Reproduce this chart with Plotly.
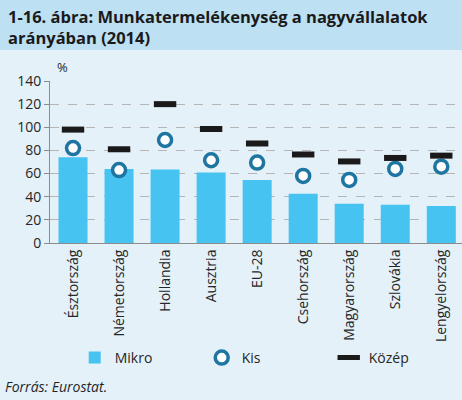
import plotly.graph_objects as go

# Data
countries = ["Észtország", "Németország", "Hollandia", "Ausztria", "EU-28",
             "Csehország", "Magyarország", "Szlovákia", "Lengyelország"]
mikro = [74, 64, 63.5, 61, 54.5, 42.5, 34, 33, 32]
kis = [82, 63, 89, 71.5, 69.5, 58, 54.5, 64, 66]
kozep = [98, 81, 120, 98.5, 86, 76.5, 70.5, 73.5, 75.5]
y_ticks = [0, 20, 40, 60, 80, 100, 120, 140]

font = "Open Sans"
bg = "#e4f1f9"
header = "#bde0f3"

fig = go.Figure()
fig.add_trace(go.Bar(x=countries, y=mikro, name="Mikro",
                     marker=dict(color="#46c3f1", line=dict(width=0))))
fig.add_trace(go.Scatter(x=countries, y=kis, name="Kis", mode="markers",
                         marker=dict(symbol="circle", size=13, color="white",
                                     line=dict(color="#1f75a1", width=3.5))))
fig.add_trace(go.Scatter(x=countries, y=kozep, name="Közép", mode="markers",
                         marker=dict(symbol="line-ew", size=16,
                                     line=dict(color="#1a1a1a", width=6))))

fig.update_layout(
    width=462, height=400,
    margin=dict(l=50, r=0, t=81, b=157),
    paper_bgcolor=bg, plot_bgcolor=bg,
    font=dict(family=font, size=13, color="#262626"),
    bargap=0.37,
    showlegend=True,
    legend=dict(orientation="h", x=0.06, y=-0.71, xanchor="left", yanchor="middle",
                entrywidth=82, bgcolor="rgba(0,0,0,0)",
                font=dict(size=14, color="#262626"), itemwidth=30),
    shapes=[dict(type="rect", xref="paper", yref="paper", x0=-0.2, x1=1.1,
                 y0=1 + 31 / 162, y1=1.6, fillcolor=header, line=dict(width=0),
                 layer="below")],
    annotations=[
        dict(text="<b>1-16. ábra: Munkatermelékenység a nagyvállalatok<br>arányában (2014)</b>",
             xref="paper", yref="paper", x=-44 / 412, y=1 + 78 / 162,
             xanchor="left", yanchor="top", align="left", showarrow=False,
             font=dict(size=16.5, color="#1a1a1a", family=font)),
        dict(text="%", xref="paper", yref="paper", x=5 / 412, y=1 + 3 / 162,
             xanchor="left", yanchor="bottom", showarrow=False,
             font=dict(size=13, color="#262626")),
        dict(text="<i>Forrás: Eurostat.</i>", xref="paper", yref="paper",
             x=-47 / 412, y=-143 / 162, xanchor="left", yanchor="middle",
             showarrow=False, font=dict(size=14, color="#262626")),
    ],
)

fig.update_yaxes(range=[0, 140], tickvals=y_ticks, showgrid=True,
                 gridcolor="#b5b5b5", griddash="dash", gridwidth=1,
                 showline=True, linecolor="#8c8c8c", linewidth=1,
                 ticks="outside", ticklen=5, tickcolor="#8c8c8c",
                 zeroline=False, tickfont=dict(size=14))
fig.update_xaxes(showline=True, linecolor="#8c8c8c", linewidth=1,
                 tickangle=-90, tickfont=dict(size=14), ticks="",
                 range=[-0.5, 8.45])

fig.write_html("out.html", config={"displayModeBar": False},
               post_script="document.body.style.margin='0';")
